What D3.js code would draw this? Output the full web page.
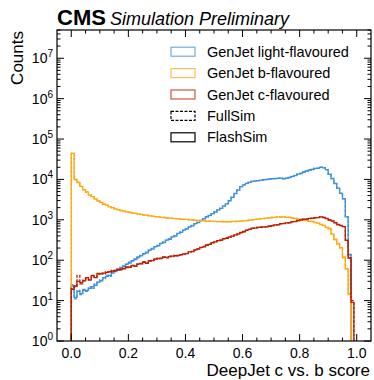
<!DOCTYPE html>
<html><head><meta charset="utf-8">
<script src="https://cdn.jsdelivr.net/npm/d3@7"></script>
<style>
html,body{margin:0;padding:0;background:#fff;}
text{font-family:"Liberation Sans",Arial,Helvetica,sans-serif;fill:#000;}
</style></head>
<body><svg id="c" width="374" height="380"></svg>
<script>
// ---- data (100 bins, 0..1) ----
const binEdgesMin = 0, binEdgesMax = 1, nBins = 100;
const light_full = [25,11,18,14,19,17,22,20,26,28,
 33,35,42,40,50,52,60,63,72,79,
 89,95,107,115,132,141,158,174,195,214,
 234,257,282,309,339,372,407,457,501,550,
 603,661,724,794,871,955,1072,1175,1288,1413,
 1585,1738,1950,2188,2512,2951,3631,4467,5495,6607,
 7413,7943,8511,8913,9120,9333,9550,9772,10000,10233,
 10471,10471,10715,10715,10471,10715,11220,11749,12589,13490,
 14125,15136,16218,16982,17783,18621,19055,19953,19498,17378,
 13490,10471,7943,6026,4571,3311,1200,135,0,0];
const light_flash = [23,12,17,15,18,18,20,22,24,29,
 31,37,40,42,48,55,57,66,70,80,
 85,98,103,120,128,145,152,178,188,218,
 226,262,272,315,330,378,398,462,490,556,
 590,668,710,802,855,965,1050,1190,1265,1425,
 1560,1755,1920,2210,2480,2980,3580,4510,5420,6650,
 7320,7990,8420,8960,9050,9380,9480,9820,9920,10300,
 10400,10550,10650,10780,10400,10800,11150,11850,12450,13600,
 14000,15250,16050,17100,17600,18750,18850,20100,19300,17500,
 13300,10550,7850,6080,4520,3340,1180,140,0,0];
const b_full = [45000,10000,8600,6600,5600,4800,4200,3700,3300,2950,
 2650,2450,2280,2120,1990,1880,1780,1700,1640,1580,
 1530,1480,1440,1400,1360,1320,1290,1260,1230,1200,
 1180,1160,1140,1120,1100,1090,1070,1060,1040,1030,
 1020,1000,990,980,960,950,940,930,920,915,
 910,905,900,900,895,900,905,910,920,930,
 950,960,980,1000,1020,1040,1060,1080,1100,1120,
 1140,1160,1170,1180,1170,1160,1140,1110,1080,1050,
 1020,990,960,930,900,860,820,770,720,660,
 600,450,320,260,200,120,60,15,0,0];
const b_flash = [44000,9800,8400,6700,5500,4900,4100,3750,3250,2900,
 2700,2420,2300,2100,2010,1860,1790,1690,1650,1570,
 1540,1470,1450,1390,1370,1310,1300,1250,1240,1195,
 1185,1150,1150,1110,1105,1080,1075,1050,1045,1020,
 1025,995,995,970,965,945,945,925,925,910,
 915,900,905,895,900,895,910,905,925,925,
 955,955,985,995,1025,1035,1065,1075,1105,1115,
 1150,1150,1180,1170,1180,1150,1150,1100,1090,1040,
 1030,980,970,920,910,850,830,760,730,650,
 610,440,330,250,205,115,62,14,0,0];
const c_full = [20,22,42,26,32,35,33,40,38,45,
 48,46,52,50,56,54,60,58,63,66,
 69,72,71,79,83,89,85,95,100,105,
 112,110,120,115,126,123,132,129,138,141,
 148,158,166,178,191,204,219,234,251,269,
 288,302,316,339,355,372,398,417,447,479,
 513,550,589,617,631,646,661,661,676,692,
 724,741,759,794,813,832,851,891,912,955,
 1000,1023,1047,1072,1096,1122,1148,1175,1148,1072,
 1000,933,851,759,724,676,316,112,10,0];
const c_flash = [19,23,30,28,31,37,32,42,37,47,
 46,48,50,52,54,56,58,60,61,68,
 67,74,70,81,81,91,84,97,98,107,
 110,112,117,118,123,126,129,132,135,144,
 145,161,163,181,188,207,215,238,247,273,
 283,306,312,343,350,377,393,422,442,485,
 507,556,582,624,625,652,655,668,670,699,
 717,748,752,802,805,840,843,899,905,963,
 990,1032,1037,1082,1085,1132,1138,1185,1140,1080,
 990,940,845,765,718,682,310,115,9,0];

const xMajorTicks = [0, 0.2, 0.4, 0.6, 0.8, 1.0];
const yDecades = [0,1,2,3,4,5,6,7];
const legendLabels = ["GenJet light-flavoured","GenJet b-flavoured","GenJet c-flavoured","FullSim","FlashSim"];
const colors = {light:"#3f90da", b:"#ffa90e", c:"#bd1f01"};

// ---- layout ----
const L = 57, R = 371, T = 30, B = 341;
const svg = d3.select("#c");
const x = d3.scaleLinear().domain([-0.05, 1.05]).range([L, R]);
const y = d3.scaleLog().domain([1, 5e7]).range([B, T]);
const edges = d3.range(nBins + 1).map(i => binEdgesMin + (binEdgesMax - binEdgesMin) * i / nBins);

svg.append("defs").append("clipPath").attr("id","clip")
  .append("rect").attr("x",L).attr("y",T).attr("width",R-L).attr("height",B-T);

function stepPath(vals){
  const yy = v => v > 0 ? y(v) : B + 3;
  let p = `M${x(edges[0])},${B+3}`;
  vals.forEach((v,i) => { p += `L${x(edges[i])},${yy(v)}L${x(edges[i+1])},${yy(v)}`; });
  p += `L${x(edges[nBins])},${B+3}`;
  return p;
}
const series = [
  {vals: light_full, color: colors.light, dash: true},
  {vals: light_flash, color: colors.light, dash: false},
  {vals: b_full, color: colors.b, dash: true},
  {vals: b_flash, color: colors.b, dash: false},
  {vals: c_full, color: colors.c, dash: true},
  {vals: c_flash, color: colors.c, dash: false},
];
const g = svg.append("g").attr("clip-path","url(#clip)");
g.selectAll("path").data(series).join("path")
  .attr("d", d => stepPath(d.vals))
  .attr("fill","none").attr("stroke", d => d.color)
  .attr("stroke-width",1.3)
  .attr("stroke-dasharray", d => d.dash ? "3,1.5" : null);

// ---- ticks ----
const xMinor = d3.range(-0.05, 1.0501, 0.05).filter(v => !xMajorTicks.some(m => Math.abs(m - v) < 1e-6) && v > -0.049 && v < 1.049);
const axes = svg.append("g").attr("stroke","#000").attr("stroke-width",1);
xMajorTicks.forEach(v => {
  axes.append("line").attr("x1",x(v)).attr("x2",x(v)).attr("y1",B).attr("y2",B-7);
  axes.append("line").attr("x1",x(v)).attr("x2",x(v)).attr("y1",T).attr("y2",T+7);
});
xMinor.forEach(v => {
  axes.append("line").attr("x1",x(v)).attr("x2",x(v)).attr("y1",B).attr("y2",B-3.5);
  axes.append("line").attr("x1",x(v)).attr("x2",x(v)).attr("y1",T).attr("y2",T+3.5);
});
yDecades.forEach(k => {
  const v = Math.pow(10,k);
  axes.append("line").attr("x1",L).attr("x2",L+7).attr("y1",y(v)).attr("y2",y(v));
  axes.append("line").attr("x1",R).attr("x2",R-7).attr("y1",y(v)).attr("y2",y(v));
  for (let m = 2; m <= 9; m++) {
    const mv = m * v;
    if (mv > 5e7) break;
    axes.append("line").attr("x1",L).attr("x2",L+3.5).attr("y1",y(mv)).attr("y2",y(mv));
    axes.append("line").attr("x1",R).attr("x2",R-3.5).attr("y1",y(mv)).attr("y2",y(mv));
  }
});
svg.append("rect").attr("x",L).attr("y",T).attr("width",R-L).attr("height",B-T)
  .attr("fill","none").attr("stroke","#000").attr("stroke-width",1.2);

// tick labels
svg.append("g").selectAll("text").data(xMajorTicks).join("text")
  .attr("x", d => x(d)).attr("y", B + 17).attr("text-anchor","middle")
  .attr("font-size",14).text(d => d.toFixed(1));
const yl = svg.append("g").selectAll("text").data(yDecades).join("text")
  .attr("x", L - 4).attr("y", d => y(Math.pow(10,d)) + 5).attr("text-anchor","end")
  .attr("font-size",14);
yl.append("tspan").text("10");
yl.append("tspan").attr("dy",-6).attr("font-size",10).text(d => d);

// axis labels
svg.append("text").attr("x", R - 1).attr("y", 376).attr("text-anchor","end")
  .attr("font-size",17).text("DeepJet c vs. b score");
svg.append("text").attr("transform",`translate(23,${T+1}) rotate(-90)`).attr("text-anchor","end")
  .attr("font-size",17).text("Counts");

// CMS label
const cms = svg.append("text").attr("x", L).attr("y", 25);
cms.append("tspan").attr("font-weight","bold").attr("font-size",22).text("CMS");
cms.append("tspan").attr("font-style","italic").attr("font-size",18).attr("dx",4).text("Simulation Preliminary");

// legend
const legendStyles = [
  {color: colors.light, dash: false},
  {color: colors.b, dash: false},
  {color: colors.c, dash: false},
  {color: "#000", dash: true},
  {color: "#000", dash: false},
];
const lg = svg.append("g").selectAll("g").data(legendLabels).join("g")
  .attr("transform", (d,i) => `translate(171,${51.7 + i*21.4})`);
lg.append("rect").attr("x",0).attr("y",-4.5).attr("width",24).attr("height",9)
  .attr("fill","none").attr("stroke",(d,i) => legendStyles[i].color)
  .attr("stroke-opacity",(d,i) => i < 3 ? 0.75 : 1)
  .attr("stroke-width",1.2)
  .attr("stroke-dasharray",(d,i) => legendStyles[i].dash ? "3,1.5" : null);
lg.append("text").attr("x",36).attr("y",5).attr("font-size",14.5).text(d => d);
</script></body></html>
